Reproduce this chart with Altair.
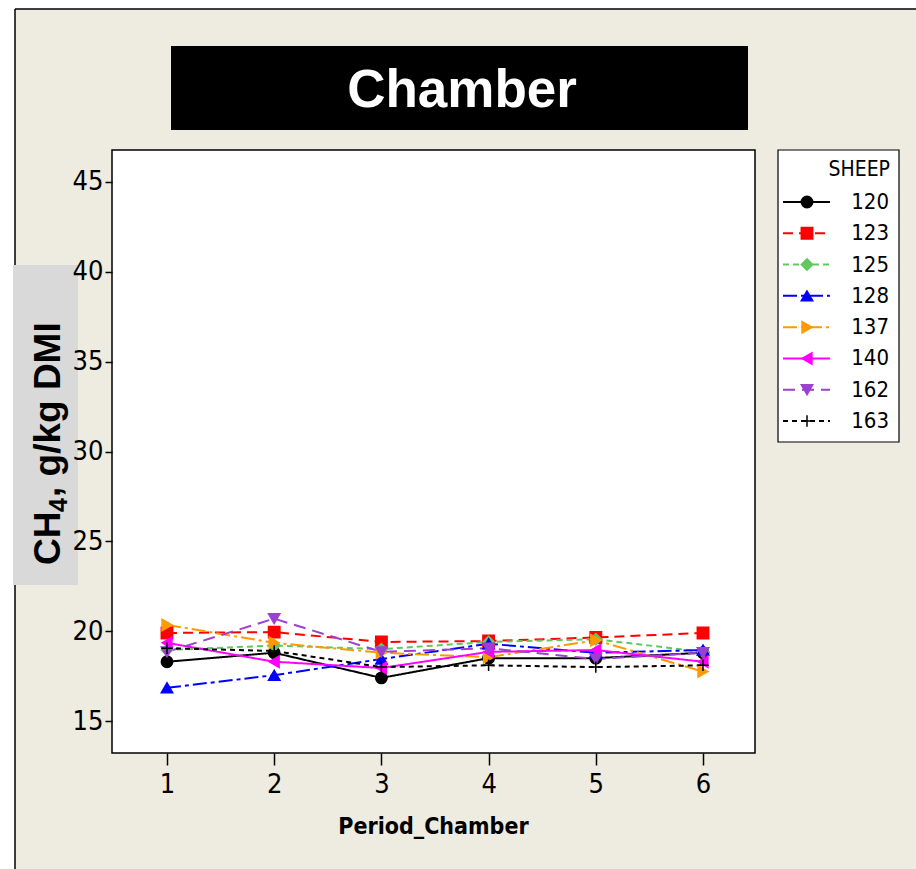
import altair as alt
import pandas as pd

# ---------------- data ----------------
periods = [1, 2, 3, 4, 5, 6]
sheep_ids = ["120", "123", "125", "128", "137", "140", "162", "163"]
s120 = [18.3, 18.8, 17.4, 18.5, 18.5, 18.8]
s123 = [19.9, 19.95, 19.4, 19.45, 19.65, 19.9]
s125 = [18.95, 19.2, 19.0, 19.4, 19.55, 18.85]
s128 = [16.85, 17.55, 18.45, 19.3, 18.8, 18.95]
s137 = [20.35, 19.35, 18.8, 18.55, 19.5, 17.75]
s140 = [19.35, 18.3, 17.95, 18.85, 18.95, 18.3]
s162 = [18.85, 20.7, 18.85, 19.05, 18.45, 18.8]
s163 = [19.05, 18.9, 18.0, 18.1, 18.0, 18.1]
series = [s120, s123, s125, s128, s137, s140, s162, s163]

y_ticks = [15, 20, 25, 30, 35, 40, 45]
x_ticks = [1, 2, 3, 4, 5, 6]

colors = ["#000000", "#FF0000", "#5FC85F", "#0000FF", "#FF9900", "#FF00FF", "#9B40D0", "#000000"]
shapes = ["circle", "square", "diamond", "triangle-up", "triangle-right",
          "triangle-left", "triangle-down", "M-1,0H1M0,-1V1"]
dashes = [[1, 0], [10, 6], [6, 4], [14, 4, 4, 4], [14, 4, 3, 4], [1, 0], [12, 7], [5, 4]]

rows = []
for sid, vals in zip(sheep_ids, series):
    for p, v in zip(periods, vals):
        rows.append({"sheep": sid, "period": p, "value": v})
df = pd.DataFrame(rows)
leg_df = pd.DataFrame({"sheep": sheep_ids, "row": list(range(1, len(sheep_ids) + 1))})
one = pd.DataFrame({"a": [0]})

W, H = 643, 603
NARROW = "DejaVu Sans Condensed, Liberation Sans, sans-serif"
BOLD = "Liberation Sans, Arial, sans-serif"

color_scale = alt.Scale(domain=sheep_ids, range=colors)
shape_scale = alt.Scale(domain=sheep_ids, range=shapes)
dash_scale = alt.Scale(domain=sheep_ids, range=dashes)

# ---------------- decorations ----------------
bg = alt.Chart(one).mark_rect(color="#EEEBE1").encode(
    x=alt.value(-97), x2=alt.value(804), y=alt.value(-141), y2=alt.value(719))
border_left = alt.Chart(one).mark_rule(color="#000000", strokeWidth=1.5).encode(
    x=alt.value(-97), y=alt.value(-141), y2=alt.value(719))
border_top = alt.Chart(one).mark_rule(color="#000000", strokeWidth=1.5).encode(
    x=alt.value(-97), x2=alt.value(804), y=alt.value(-141))
title_box = alt.Chart(one).mark_rect(color="#000000").encode(
    x=alt.value(59), x2=alt.value(636), y=alt.value(-104), y2=alt.value(-20))
title_txt = alt.Chart(one).mark_text(
    text="Chamber", font=BOLD, fontWeight="bold", fontSize=53, color="#FFFFFF",
    align="center", baseline="alphabetic").encode(x=alt.value(350), y=alt.value(-43))
ylab_box = alt.Chart(one).mark_rect(color="#D9D9D9").encode(
    x=alt.value(-99), x2=alt.value(-34), y=alt.value(115), y2=alt.value(435))
ylab1 = alt.Chart(one).mark_text(
    text="CH", font=BOLD, fontWeight="bold", fontSize=37, color="#000000",
    align="left", baseline="alphabetic", angle=270).encode(x=alt.value(-52), y=alt.value(415))
ylab2 = alt.Chart(one).mark_text(
    text="4", font=BOLD, fontWeight="bold", fontSize=25, color="#000000",
    align="left", baseline="alphabetic", angle=270).encode(x=alt.value(-45), y=alt.value(362))
ylab3 = alt.Chart(one).mark_text(
    text=", g/kg DMI", font=BOLD, fontWeight="bold", fontSize=37, color="#000000",
    align="left", baseline="alphabetic", angle=270).encode(x=alt.value(-52), y=alt.value(347))
plot_bg = alt.Chart(one).mark_rect(fill="#FFFFFF", stroke="#000000", strokeWidth=1.5).encode(
    x=alt.value(0), x2=alt.value(W), y=alt.value(0), y2=alt.value(H))

deco = alt.layer(bg, border_left, border_top, title_box, title_txt, ylab_box,
                 ylab1, ylab2, ylab3, plot_bg)

# ---------------- data marks ----------------
x_enc = alt.X("period:Q", scale=alt.Scale(domain=[0.487, 6.485], nice=False, zero=False),
              axis=alt.Axis(values=x_ticks, format="d", domain=False, grid=False, zindex=1,
                            tickSize=12, tickColor="#000000", tickWidth=1.5,
                            labelFont=NARROW, labelFontSize=27, labelColor="#000000",
                            labelPadding=6, labelBaseline="top",
                            title="Period_Chamber", titleFont=NARROW, titleFontSize=23,
                            titleFontWeight="bold", titleColor="#000000",
                            titleX=321, titleY=80, titleBaseline="alphabetic", titleAlign="center"))
y_enc = alt.Y("value:Q", scale=alt.Scale(domain=[13.22, 46.78], nice=False, zero=False),
              axis=alt.Axis(values=y_ticks, domain=False, grid=False, zindex=1,
                            tickSize=7, tickColor="#000000", tickWidth=1.5,
                            labelFont=NARROW, labelFontSize=27, labelColor="#000000",
                            labelPadding=2, title=None))

lines = alt.Chart(df).mark_line(strokeWidth=2).encode(
    x=x_enc, y=y_enc,
    color=alt.Color("sheep:N", scale=color_scale, legend=None),
    strokeDash=alt.StrokeDash("sheep:N", scale=dash_scale, legend=None),
    detail="sheep:N")
points = alt.Chart(df).mark_point(filled=True, size=130, opacity=1, strokeWidth=1.5).encode(
    x="period:Q", y="value:Q",
    color=alt.Color("sheep:N", scale=color_scale, legend=None),
    stroke=alt.Stroke("sheep:N", scale=color_scale, legend=None),
    shape=alt.Shape("sheep:N", scale=shape_scale, legend=None))
main = alt.layer(lines, points)

# ---------------- legend ----------------
leg_y = alt.Y("row:Q", scale=alt.Scale(domain=[1, 8], range=[52, 271], nice=False, zero=False), axis=None)
leg_box = alt.Chart(one).mark_rect(fill="#FFFFFF", stroke="#000000", strokeWidth=1.2).encode(
    x=alt.value(666), x2=alt.value(787), y=alt.value(0), y2=alt.value(292))
leg_head = alt.Chart(one).mark_text(
    text="SHEEP", font=NARROW, fontSize=21, color="#000000", align="right",
    baseline="middle").encode(x=alt.value(778), y=alt.value(20))
leg_rules = alt.Chart(leg_df).mark_rule(strokeWidth=2).encode(
    x=alt.value(671), x2=alt.value(718), y=leg_y,
    color=alt.Color("sheep:N", scale=color_scale, legend=None),
    strokeDash=alt.StrokeDash("sheep:N", scale=dash_scale, legend=None))
leg_pts = alt.Chart(leg_df).mark_point(filled=True, size=130, opacity=1, strokeWidth=1.5).encode(
    x=alt.value(695), y=leg_y,
    color=alt.Color("sheep:N", scale=color_scale, legend=None),
    stroke=alt.Stroke("sheep:N", scale=color_scale, legend=None),
    shape=alt.Shape("sheep:N", scale=shape_scale, legend=None))
leg_txt = alt.Chart(leg_df).mark_text(
    font=NARROW, fontSize=22, color="#000000", align="right", baseline="middle").encode(
    x=alt.value(777), y=leg_y, text="sheep:N")
legend = alt.layer(leg_box, leg_head, leg_rules, leg_pts, leg_txt)

chart = alt.layer(deco, main, legend).resolve_scale(y="independent").properties(
    width=W, height=H,
    autosize=alt.AutoSizeParams(type="none"),
    padding={"left": 112, "top": 150, "right": 161, "bottom": 116},
    background="#FFFFFF",
).configure_view(stroke=None, fill=None)

chart.save("out.html", embed_options={"renderer": "svg", "actions": False})
